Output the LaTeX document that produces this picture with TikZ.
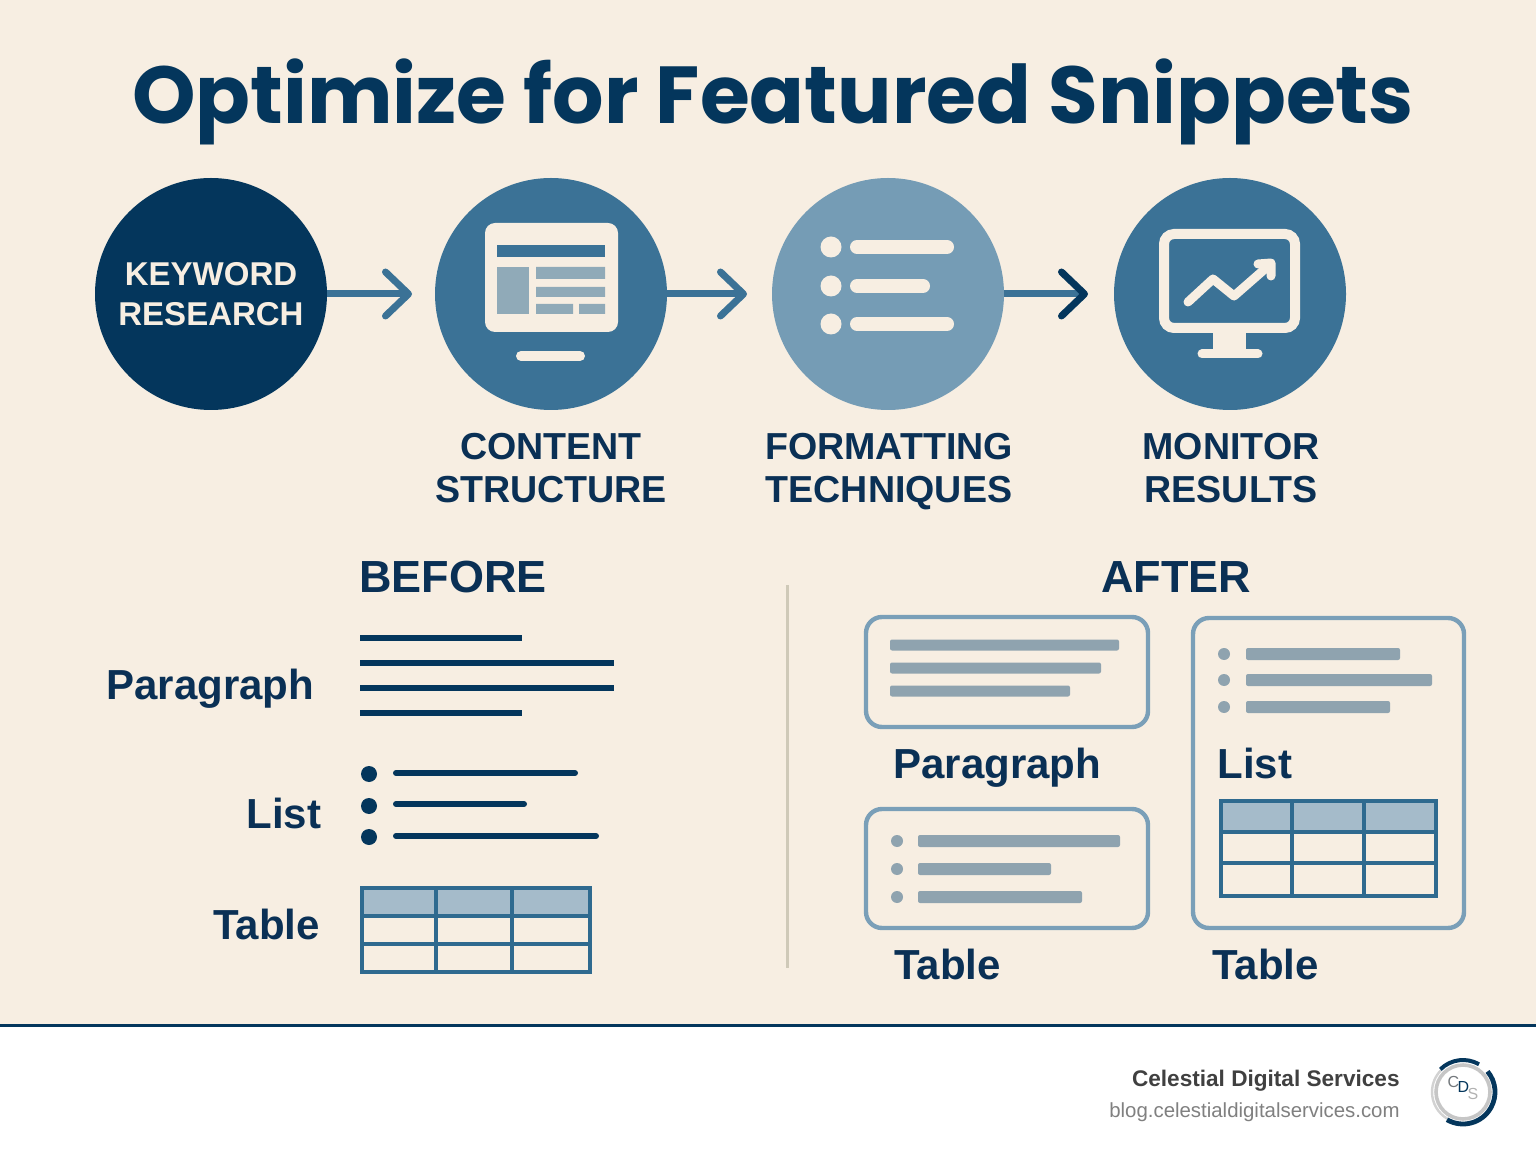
\documentclass[tikz,border=0pt]{standalone}
\usepackage{fontspec}
\setmainfont{Liberation Sans}
\newfontfamily\titlefont{Poppins}
\usetikzlibrary{arrows.meta}
\definecolor{cream}{HTML}{F7EEE2}
\definecolor{navy}{HTML}{04365C}
\definecolor{inkblue}{HTML}{0A3055}
\definecolor{midblue}{HTML}{3B7296}
\definecolor{paleblue}{HTML}{759CB5}
\definecolor{edgeblue}{HTML}{7A9FB8}
\definecolor{gridblue}{HTML}{2F6A8F}
\definecolor{headblue}{HTML}{A5BBCA}
\definecolor{barblue}{HTML}{8FA3AF}
\definecolor{rulesand}{HTML}{CFC9B8}
\tikzset{
  stepdisc/.style={circle,minimum size=116pt,inner sep=0pt},
  steplabel/.style={text=inkblue,font=\bfseries\fontsize{18.8}{21.5}\selectfont,align=center,anchor=north,inner sep=0pt},
  headtext/.style={text=inkblue,font=\bfseries\fontsize{22.5}{28}\selectfont,anchor=base,inner sep=0pt},
  kindtext/.style={text=inkblue,font=\bfseries\fontsize{21}{26}\selectfont,anchor=base west,inner sep=0pt},
  chevron/.style={line width=3.5pt,draw=#1,-{Straight Barb[length=11.5pt,width=22pt,line width=3.5pt,round]}},
  darkbar/.style={navy,line width=3pt},
  cardbox/.style={draw=edgeblue,line width=2.2pt,rounded corners=8pt},
  gridline/.style={draw=gridblue,line width=2pt}
}
% table with shaded top row: x0 x1 x2 x3 y0 y1 y2 y3
\newcommand{\tablegrid}[8]{
  \fill[headblue] (#1,#5) rectangle (#4,#6);
  \draw[gridline] (#1,#5) rectangle (#4,#8);
  \draw[gridline] (#2,#5)--(#2,#8) (#3,#5)--(#3,#8) (#1,#6)--(#4,#6) (#1,#7)--(#4,#7);
}
\begin{document}
\begin{tikzpicture}[x=0.5pt,y=-0.5pt]
\useasboundingbox (0,0) rectangle (1536,1154);
\fill[cream] (0,0) rectangle (1536,1025);
\fill[white] (0,1025) rectangle (1536,1154);
\draw[navy,line width=1.5pt] (0,1025)--(1536,1025);

\node[anchor=base,inner sep=0pt,text=navy,font=\titlefont\bfseries\fontsize{40.4}{46}\selectfont] (title) at (773,124) {Optimize for Featured Snippets};

% the four steps
\node[stepdisc,fill=navy,text=cream,align=center,font=\bfseries\fontsize{16.5}{20}\selectfont] (keyword) at (211,294) {KEYWORD\\RESEARCH};
\node[stepdisc,fill=midblue] (content) at (551,294) {};
\node[stepdisc,fill=paleblue] (format) at (888,294) {};
\node[stepdisc,fill=midblue] (monitor) at (1230,294) {};
\coordinate (tipa) at (412,294);
\coordinate (tipb) at (747,294);
\coordinate (tipc) at (1088,294);
\draw[chevron=midblue] (keyword)--(tipa);
\draw[chevron=midblue] (content)--(tipb);
\draw[line width=3.5pt,draw=midblue,-{Straight Barb[length=11.5pt,width=22pt,line width=3.5pt,round,color=navy]}] (format)--(tipc);

% page icon
\fill[cream,rounded corners=5pt] (485,223) rectangle (618,332);
\fill[midblue] (497,245) rectangle (605,257);
\fill[midblue!55!cream] (497,267) rectangle (529,314);
\fill[midblue!55!cream] (536,267) rectangle (605,279) (536,287) rectangle (605,297) (536,304) rectangle (573,314) (579,304) rectangle (605,314);
\draw[cream,line width=5pt,line cap=round] (521,356)--(580,356);

% list icon
\foreach \y/\xend in {247/947,286/923,324/947}{
  \fill[cream] (831,\y) circle (10.5);
  \draw[cream,line width=7pt,line cap=round] (857,\y)--(\xend,\y);
}

% monitor icon
\draw[cream,line width=5pt,rounded corners=5pt] (1164,234) rectangle (1295,328);
\fill[cream] (1213,330) rectangle (1246,352);
\draw[cream,line width=4.5pt,line cap=round] (1202,354)--(1258,354);
\draw[cream,line width=4.5pt,line cap=round,line join=round] (1188,302)--(1213,279)--(1234,296)--(1266,268);
\draw[cream,line width=4.5pt,line cap=round,line join=round] (1258,264)--(1271,263)--(1271,276);

\node[steplabel] (contentlabel) at (551,433) {CONTENT\\STRUCTURE};
\node[steplabel] (formatlabel) at (889,433) {FORMATTING\\TECHNIQUES};
\node[steplabel] (monitorlabel) at (1231,433) {MONITOR\\RESULTS};

% before
\node[headtext] (before) at (453,592) {BEFORE};
\node[kindtext] (parabefore) at (106,699) {Paragraph};
\node[kindtext] (listbefore) at (246,828) {List};
\node[kindtext] (tablebefore) at (213,939) {Table};
\draw[darkbar] (360,638)--(522,638) (360,663)--(614,663) (360,688)--(614,688) (360,713)--(522,713);
\foreach \y/\xend in {773/575,804/524,836/596}{
  \draw[darkbar,line cap=round] (396,\y)--(\xend,\y);
}
\foreach \y in {774,806,837}{
  \fill[navy] (369,\y) circle (8);
}
\tablegrid{362}{436}{512}{590}{888}{916}{944}{972}

\draw[rulesand,line width=1.5pt] (787,585)--(787,968);

% after
\node[headtext] (after) at (1176,592) {AFTER};
\draw[cardbox] (866,617) rectangle (1148,727);
\draw[cardbox] (866,809) rectangle (1148,928);
\draw[cardbox] (1193,618) rectangle (1464,928);
\foreach \y/\xend in {645/1119,668/1101,691/1070}{
  \fill[barblue,rounded corners=1pt] (890,\y-5.5) rectangle (\xend,\y+5.5);
}
\foreach \y/\xend in {841/1120,869/1051,897/1082}{
  \fill[barblue] (897,\y) circle (6);
  \fill[barblue,rounded corners=1pt] (918,\y-6) rectangle (\xend,\y+6);
}
\foreach \y/\xend in {654/1400,680/1432,707/1390}{
  \fill[barblue] (1224,\y) circle (6);
  \fill[barblue,rounded corners=1pt] (1246,\y-6) rectangle (\xend,\y+6);
}
\node[kindtext] (paraafter) at (893,778) {Paragraph};
\node[kindtext] (listafter) at (1217,778) {List};
\node[kindtext] (tableaftera) at (894,979) {Table};
\node[kindtext] (tableafterb) at (1212,979) {Table};
\tablegrid{1221}{1292}{1364}{1436}{801}{832}{863}{896}

% footer
\node[anchor=base east,inner sep=0pt,text=black!75,font=\bfseries\fontsize{11.3}{14}\selectfont] (brand) at (1400,1086) {Celestial Digital Services};
\node[anchor=base east,inner sep=0pt,text=black!50,font=\fontsize{10.2}{13}\selectfont] (site) at (1400,1117) {blog.celestialdigitalservices.com};
\draw[gray!45,line width=1.8pt] (1463,1092) circle (27);
\draw[gray!35,line width=1.2pt] (1463,1092) ++(120:31) arc (120:225:31);
\draw[navy,line width=2.4pt] (1463,1092) ++(120:32) arc (120:-40:32);
\draw[navy,line width=2pt] (1463,1092) ++(225:32) arc (225:300:32);
\node[inner sep=0pt,text=gray!90!navy,font=\fontsize{8}{8}\selectfont] (logo) at (1463,1088) {C\kern-0.8pt\raisebox{-2.5pt}{\textcolor{navy}{D}}\kern-0.8pt\raisebox{-6pt}{\textcolor{gray!60}{S}}};
\end{tikzpicture}
\end{document}
